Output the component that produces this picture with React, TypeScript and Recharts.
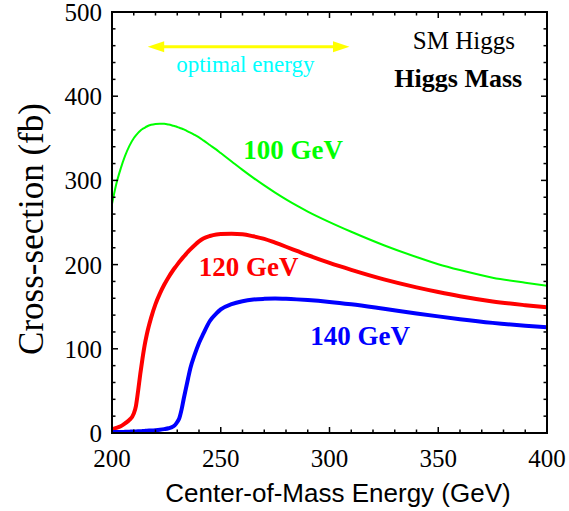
import React from 'react';
import { LineChart, Line, XAxis, YAxis, ReferenceDot, ReferenceLine } from 'recharts';

const energies = [200, 202, 204, 206, 208, 210, 211, 212, 213, 214, 215, 216, 218, 220, 222, 224, 226, 228, 229, 230, 231, 232, 233, 234, 235, 236, 238, 240, 242, 245, 248, 250, 255, 260, 265, 270, 275, 280, 285, 290, 300, 310, 325, 340, 350, 360, 375, 390, 400];

const sigma100 = [272, 296, 314, 329, 341, 350, 353.5, 356.5, 359, 361, 362.5, 364, 366, 367, 367.4, 367.2, 366.3, 365, 364.3, 363.5, 362.6, 361.6, 360.5, 359.3, 358, 356.8, 354, 351, 347.5, 342, 336.5, 332.5, 322.5, 312.5, 303, 294, 285.5, 277.5, 270, 263, 250.5, 239, 223, 209, 200.5, 193.5, 184.5, 178.5, 175];

const sigma120 = [4.5, 6, 8, 11.5, 15.5, 23, 32, 50, 70, 88, 104, 117, 137, 153, 165.5, 176, 185, 193, 196.6, 200, 203.3, 206.5, 209.5, 212.5, 215.3, 218, 223, 227.5, 231, 234, 235.8, 236.3, 236.6, 236, 233.6, 230.5, 226, 221.2, 216.2, 211.2, 202, 193.8, 182.5, 173, 167.5, 162.5, 156.3, 151.8, 149.2];

const sigma140 = [1, 1.1, 1.2, 1.4, 1.6, 1.8, 1.9, 2, 2.1, 2.3, 2.5, 2.7, 3, 3.4, 3.9, 4.6, 5.6, 7.5, 9.5, 13, 18, 28, 41, 53, 65, 76.5, 93, 107, 118, 133, 142, 146.8, 153, 156.5, 158.5, 159.3, 159.6, 159.3, 158.7, 157.9, 155.7, 152.8, 147.5, 142, 138.5, 135.2, 130.8, 127.3, 125.5];

const xMajorTicks = [200, 250, 300, 350, 400];
const xMinorTicks = [210, 220, 230, 240, 260, 270, 280, 290, 310, 320, 330, 340, 360, 370, 380, 390];
const yMajorTicks = [0, 100, 200, 300, 400, 500];
const yMinorTicks = [20, 40, 60, 80, 120, 140, 160, 180, 220, 240, 260, 280, 320, 340, 360, 380, 420, 440, 460, 480];

const X_MIN = 200;
const X_MAX = 400;
const Y_MIN = 0;
const Y_MAX = 500;

const xTitle = 'Center-of-Mass Energy (GeV)';
const yTitle = 'Cross-section (fb)';

const annotations = [
  { text: '100 GeV', x: 283.3, y: 325, color: '#00ff00', size: 27, weight: 'bold' },
  { text: '120 GeV', x: 262.8, y: 186.7, color: '#ff0000', size: 27, weight: 'bold' },
  { text: '140 GeV', x: 314.1, y: 105.1, color: '#0000ff', size: 27, weight: 'bold' },
  { text: 'optimal energy', x: 261.3, y: 428.2, color: '#00ffff', size: 23, weight: 'normal' },
  { text: 'SM Higgs', x: 361.8, y: 456.4, color: '#000000', size: 25, weight: 'normal' },
  { text: 'Higgs Mass', x: 359.2, y: 410.8, color: '#000000', size: 26, weight: 'bold' },
];

const arrowFrom = 216.4;
const arrowTo = 309.2;
const arrowLevel = 458.6;

const data = energies.map((e, i) => ({ e, h100: sigma100[i], h120: sigma120[i], h140: sigma140[i] }));

const SERIF = '"Liberation Serif", "Times New Roman", serif';
const SANS = '"Liberation Sans", Arial, sans-serif';

// chart geometry (shared by the chart margins and the frame overlay)
const W = 569;
const H = 511;
const MARGIN = { top: 12, right: 22, bottom: 8, left: 22 };
const Y_AXIS_W = 90;
const X_AXIS_H = 70;
const PLOT_L = MARGIN.left + Y_AXIS_W;
const PLOT_R = W - MARGIN.right;
const PLOT_T = MARGIN.top;
const PLOT_B = H - MARGIN.bottom - X_AXIS_H;
const px = (v: number) => PLOT_L + ((v - X_MIN) / (X_MAX - X_MIN)) * (PLOT_R - PLOT_L);
const py = (v: number) => PLOT_B - ((v - Y_MIN) / (Y_MAX - Y_MIN)) * (PLOT_B - PLOT_T);

const MAJOR_LEN = 6;
const MINOR_LEN = 3.5;
const TICK_STROKE = 1.5;

const XLabelTick = (props: any) => (
  <text x={props.x} y={props.y + 34} textAnchor="middle" fontFamily={SERIF} fontSize={25} fill="#000">
    {props.payload.value}
  </text>
);

const YLabelTick = (props: any) => (
  <text x={props.x - 10} y={props.y + 9} textAnchor="end" fontFamily={SERIF} fontSize={25} fill="#000">
    {props.payload.value}
  </text>
);

const ArrowShape = (props: any) => {
  const { x1, y1, x2 } = props;
  const len = 16.5;
  const half = 5.5;
  return (
    <g>
      <line x1={x1 + len - 2} y1={y1} x2={x2 - len + 2} y2={y1} stroke="#ffff00" strokeWidth={3} />
      <polygon points={`${x1},${y1} ${x1 + len},${y1 - half} ${x1 + len},${y1 + half}`} fill="#ffff00" />
      <polygon points={`${x2},${y1} ${x2 - len},${y1 - half} ${x2 - len},${y1 + half}`} fill="#ffff00" />
    </g>
  );
};

function FrameOverlay() {
  const xt = [
    ...xMajorTicks.map((v) => ({ v, len: MAJOR_LEN })),
    ...xMinorTicks.map((v) => ({ v, len: MINOR_LEN })),
  ];
  const yt = [
    ...yMajorTicks.map((v) => ({ v, len: MAJOR_LEN })),
    ...yMinorTicks.map((v) => ({ v, len: MINOR_LEN })),
  ];
  return (
    <svg width={W} height={H} style={{ position: 'absolute', left: 0, top: 0, pointerEvents: 'none' }}>
      {xt.map(({ v, len }) => (
        <g key={`x${v}`}>
          <line x1={px(v)} y1={PLOT_B} x2={px(v)} y2={PLOT_B - len} stroke="#000" strokeWidth={TICK_STROKE} />
          <line x1={px(v)} y1={PLOT_T} x2={px(v)} y2={PLOT_T + len} stroke="#000" strokeWidth={TICK_STROKE} />
        </g>
      ))}
      {yt.map(({ v, len }) => (
        <g key={`y${v}`}>
          <line x1={PLOT_L} y1={py(v)} x2={PLOT_L + len} y2={py(v)} stroke="#000" strokeWidth={TICK_STROKE} />
          <line x1={PLOT_R} y1={py(v)} x2={PLOT_R - len} y2={py(v)} stroke="#000" strokeWidth={TICK_STROKE} />
        </g>
      ))}
      <rect x={PLOT_L} y={PLOT_T} width={PLOT_R - PLOT_L} height={PLOT_B - PLOT_T} fill="none" stroke="#000" strokeWidth={2} />
    </svg>
  );
}

export default function App() {
  return (
    <div style={{ position: 'absolute', left: 0, top: 0, width: W, height: H, background: '#fff' }}>
      <LineChart width={W} height={H} data={data} margin={MARGIN}>
        <XAxis
          xAxisId="main"
          dataKey="e"
          type="number"
          domain={[X_MIN, X_MAX]}
          allowDataOverflow
          ticks={xMajorTicks}
          interval={0}
          height={X_AXIS_H}
          tickSize={0}
          tickMargin={0}
          tickLine={false}
          axisLine={{ stroke: '#000', strokeWidth: 2 }}
          tick={XLabelTick}
          label={(p: any) => {
            const vb = p.viewBox;
            return (
              <text x={vb.x + vb.width / 2 + 8.5} y={vb.y + 69} textAnchor="middle" fontFamily={SANS} fontSize={26} fill="#000">
                {xTitle}
              </text>
            );
          }}
        />
        <YAxis
          yAxisId="main"
          type="number"
          domain={[Y_MIN, Y_MAX]}
          allowDataOverflow
          ticks={yMajorTicks}
          interval={0}
          width={Y_AXIS_W}
          tickSize={0}
          tickMargin={0}
          tickLine={false}
          axisLine={{ stroke: '#000', strokeWidth: 2 }}
          tick={YLabelTick}
          label={(p: any) => {
            const vb = p.viewBox;
            const bx = vb.x + 21;
            const cy = vb.y + vb.height / 2 + 6.5;
            return (
              <text x={bx} y={cy} transform={`rotate(-90, ${bx}, ${cy})`} textAnchor="middle" fontFamily={SERIF} fontSize={35} fill="#000">
                {yTitle}
              </text>
            );
          }}
        />

        <Line xAxisId="main" yAxisId="main" type="monotone" dataKey="h100" stroke="#00ff00" strokeWidth={2} dot={false} isAnimationActive={false} />
        <Line xAxisId="main" yAxisId="main" type="monotone" dataKey="h120" stroke="#ff0000" strokeWidth={4} dot={false} isAnimationActive={false} />
        <Line xAxisId="main" yAxisId="main" type="monotone" dataKey="h140" stroke="#0000ff" strokeWidth={4} dot={false} isAnimationActive={false} />

        {annotations.map((a) => (
          <ReferenceDot
            key={a.text}
            xAxisId="main"
            yAxisId="main"
            x={a.x}
            y={a.y}
            r={0}
            ifOverflow="visible"
            shape={(p: any) => (
              <text x={p.cx} y={p.cy} textAnchor="middle" fontFamily={SERIF} fontSize={a.size} fontWeight={a.weight} fill={a.color}>
                {a.text}
              </text>
            )}
          />
        ))}

        <ReferenceLine
          xAxisId="main"
          yAxisId="main"
          ifOverflow="visible"
          segment={[{ x: arrowFrom, y: arrowLevel }, { x: arrowTo, y: arrowLevel }]}
          shape={ArrowShape}
        />
      </LineChart>
      <FrameOverlay />
    </div>
  );
}
